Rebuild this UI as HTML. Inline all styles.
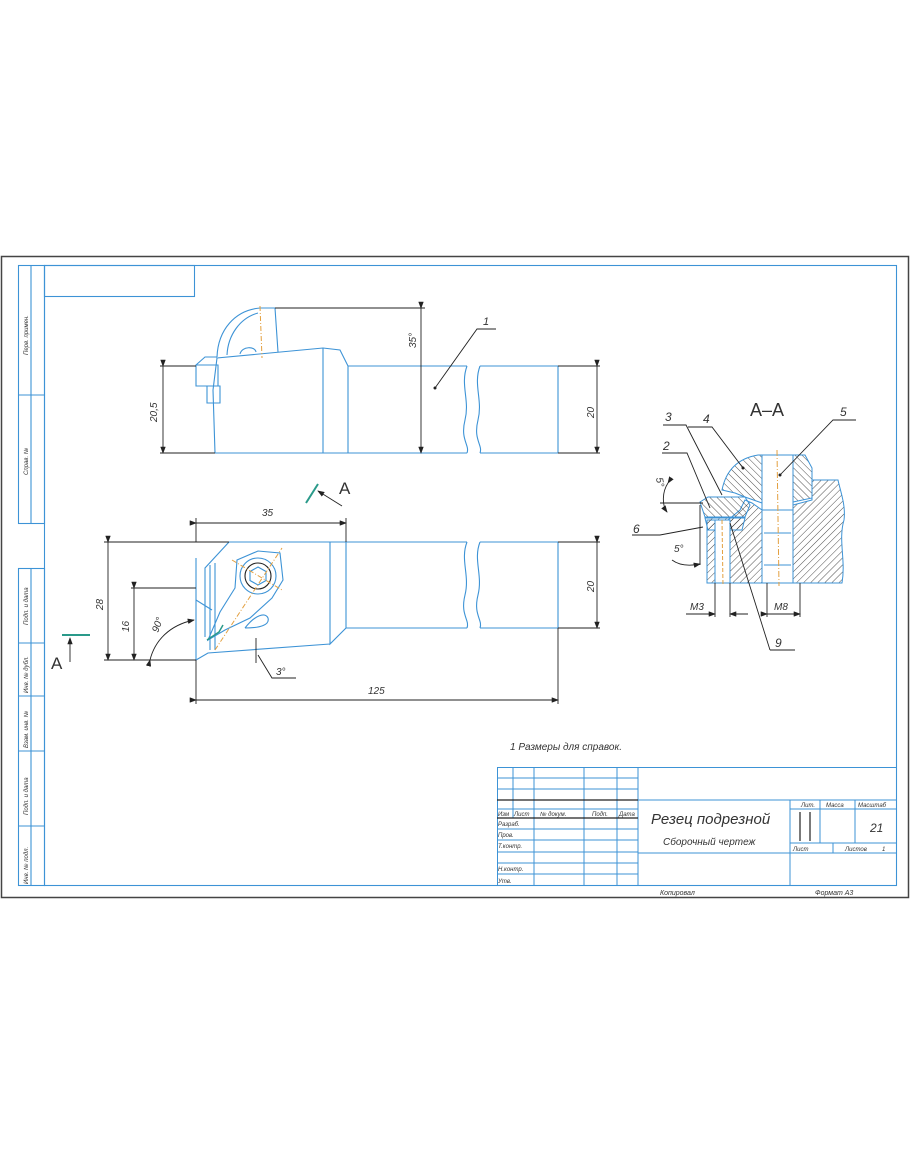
<!DOCTYPE html>
<html><head><meta charset="utf-8"><style>
html,body{margin:0;padding:0;background:#fff;}
svg{display:block;}
text{font-family:"Liberation Sans",sans-serif;font-style:italic;fill:#333;}
</style></head><body>
<svg width="910" height="1155" viewBox="0 0 910 1155" xmlns="http://www.w3.org/2000/svg">
<defs>
<pattern id="h" width="5" height="5" patternUnits="userSpaceOnUse" patternTransform="rotate(45)">
<line x1="0" y1="0" x2="0" y2="5" stroke="#222" stroke-width="0.8"/></pattern>
<pattern id="h2" width="5" height="5" patternUnits="userSpaceOnUse" patternTransform="rotate(-45)">
<line x1="0" y1="0" x2="0" y2="5" stroke="#222" stroke-width="0.8"/></pattern>
<marker id="a" markerWidth="8" markerHeight="6" refX="7" refY="3" orient="auto"><path d="M0,0 L8,3 L0,6z" fill="#222"/></marker>
</defs>
<rect x="1.5" y="256.5" width="907" height="641" fill="none" stroke="#444" stroke-width="1.5"/>
<g fill="none" stroke="#3d93d6" stroke-width="1.1">
<rect x="44.5" y="265.5" width="852" height="620"/>
<rect x="44.5" y="265.5" width="150" height="31"/>
<rect x="18.5" y="265.5" width="26" height="258"/>
<line x1="31" y1="265" x2="31" y2="523"/><line x1="18" y1="395" x2="44" y2="395"/>
<rect x="18.5" y="568.5" width="26" height="317"/>
<line x1="31" y1="568" x2="31" y2="886"/>
<line x1="18" y1="643" x2="44" y2="643"/><line x1="18" y1="696" x2="44" y2="696"/>
<line x1="18" y1="751" x2="44" y2="751"/><line x1="18" y1="826" x2="44" y2="826"/>
</g>
<g font-size="6">
<text transform="translate(28,355) rotate(-90)">Перв. примен.</text>
<text transform="translate(28,475) rotate(-90)">Справ. №</text>
<text transform="translate(28,625) rotate(-90)">Подп. и дата</text>
<text transform="translate(28,693) rotate(-90)">Инв. № дубл.</text>
<text transform="translate(28,748) rotate(-90)">Взам. инв. №</text>
<text transform="translate(28,815) rotate(-90)">Подп. и дата</text>
<text transform="translate(28,884) rotate(-90)">Инв. № подл.</text>
</g>

<!-- TOP VIEW -->
<g fill="none" stroke="#3d93d6" stroke-width="1.1">
<path d="M348,366 H467 M480,366 H558 V453 H480 M467,453 H348"/>
<path d="M467,366 C460,385 470,400 465,420 C460,440 470,445 467,453"/>
<path d="M480,366 C473,385 483,400 478,420 C473,440 483,445 480,453"/>
<path d="M215,453 L213,390 L217,358 L323,348 L340,350 L348,366 V453 M323,348 V453 M215,453 H348"/>
<path d="M196,365 H218 V386 H196Z M207,386 H220 V403 H207Z M196,365 L205,357 L217,357"/>
<path d="M217,357 C218,330 235,310 260,308 H275 L278,352"/>
<path d="M227,355 C228,335 240,318 258,313"/>
<path d="M240,354 C242,346 255,346 256,352"/>
</g>
<line x1="260" y1="306" x2="262" y2="358" stroke="#e3a040" stroke-dasharray="5,2,1,2"/>
<g stroke="#222" stroke-width="0.9" fill="none">
<line x1="160" y1="366" x2="196" y2="366"/><line x1="160" y1="453" x2="215" y2="453"/>
<line x1="163" y1="366" x2="163" y2="453" marker-start="url(#a)" marker-end="url(#a)"/>
<line x1="275" y1="308" x2="425" y2="308"/>
<line x1="421" y1="308" x2="421" y2="453" marker-start="url(#a)" marker-end="url(#a)"/>
<line x1="558" y1="366" x2="600" y2="366"/><line x1="558" y1="453" x2="600" y2="453"/>
<line x1="597" y1="366" x2="597" y2="453" marker-start="url(#a)" marker-end="url(#a)"/>
<path d="M435,388 L477,329 H496"/>
</g>
<circle cx="435" cy="388" r="1.5" fill="#222"/>
<text x="483" y="325" font-size="11">1</text>
<text transform="translate(157,422) rotate(-90)" font-size="10">20,5</text>
<text transform="translate(416,348) rotate(-90)" font-size="10">35°</text>
<text transform="translate(594,418) rotate(-90)" font-size="10">20</text>

<!-- PLAN VIEW -->
<g fill="none" stroke="#3d93d6" stroke-width="1.1">
<path d="M346,542 H467 M480,542 H558 V628 H480 M467,628 H346"/>
<path d="M467,542 C460,560 470,575 465,595 C460,615 470,620 467,628"/>
<path d="M480,542 C473,560 483,575 478,595 C473,615 483,620 480,628"/>
<path d="M229,542 H346 V628 L330,644 V542 M330,644 L208,653 L196,660 V558"/>
<path d="M229,542 L205,568 V637 M210,565 V650 M215,563 V650 M196,600 L212,610"/>
<path d="M208,640 L220,612 L235,588 L237,560 L258,551 L280,553 L283,580 L272,598 L250,618 L225,630 Z"/>
<circle cx="258" cy="576" r="18"/><circle cx="258" cy="576" r="13" stroke="#222"/>
<path d="M258,567 L266,571.5 V580.5 L258,585 L250,580.5 V571.5Z"/>
<path d="M245,628 C255,615 265,612 268,618 C270,625 260,628 245,628"/>
</g>
<path d="M207,640 L219,632 L223,625" stroke="#2a9a8a" stroke-width="1.5" fill="none"/>
<line x1="215" y1="650" x2="282" y2="548" stroke="#e3a040" stroke-dasharray="5,2,1,2"/>
<line x1="232" y1="560" x2="282" y2="590" stroke="#e3a040" stroke-dasharray="5,2,1,2"/>
<g stroke="#222" stroke-width="0.9" fill="none">
<line x1="196" y1="518" x2="196" y2="542"/><line x1="346" y1="518" x2="346" y2="542"/>
<line x1="196" y1="523" x2="346" y2="523" marker-start="url(#a)" marker-end="url(#a)"/>
<line x1="196" y1="660" x2="196" y2="704"/><line x1="558" y1="628" x2="558" y2="704"/>
<line x1="196" y1="700" x2="558" y2="700" marker-start="url(#a)" marker-end="url(#a)"/>
<line x1="558" y1="542" x2="600" y2="542"/><line x1="558" y1="628" x2="600" y2="628"/>
<line x1="597" y1="542" x2="597" y2="628" marker-start="url(#a)" marker-end="url(#a)"/>
<line x1="104" y1="542" x2="229" y2="542"/><line x1="104" y1="660" x2="196" y2="660"/>
<line x1="108" y1="542" x2="108" y2="660" marker-start="url(#a)" marker-end="url(#a)"/>
<line x1="131" y1="588" x2="196" y2="588"/>
<line x1="134" y1="588" x2="134" y2="660" marker-start="url(#a)" marker-end="url(#a)"/>
<path d="M150,660 C155,640 170,625 194,620" marker-start="url(#a)" marker-end="url(#a)"/>
<line x1="256" y1="638" x2="256" y2="663"/>
<path d="M258,655 L272,678 H296"/>
<line x1="342" y1="506" x2="318" y2="491" marker-end="url(#a)"/>
<line x1="70" y1="662" x2="70" y2="638" marker-end="url(#a)"/>
</g>
<line x1="306" y1="503" x2="318" y2="484" stroke="#2a9a8a" stroke-width="2"/>
<line x1="62" y1="635" x2="90" y2="635" stroke="#2a9a8a" stroke-width="2"/>
<text x="339" y="494" font-size="17" style="font-style:normal" fill="#444">A</text>
<text x="51" y="669" font-size="17" style="font-style:normal" fill="#444">A</text>
<text x="262" y="516" font-size="10">35</text>
<text x="368" y="694" font-size="10">125</text>
<text x="276" y="675" font-size="10">3°</text>
<text transform="translate(103,610) rotate(-90)" font-size="10">28</text>
<text transform="translate(129,632) rotate(-90)" font-size="10">16</text>
<text transform="translate(158,633) rotate(-70)" font-size="10">90°</text>
<text transform="translate(594,592) rotate(-90)" font-size="10">20</text>

<!-- SECTION A-A -->
<text x="750" y="416" font-size="18" style="font-style:normal" fill="#444">A–A</text>
<g stroke="#3d93d6" stroke-width="1">
<path d="M707,583 H762 V510 L752,503 L745,500 L740,510 L728,520 H707Z" fill="url(#h)"/>
<path d="M793,583 H842 C846,560 838,540 844,520 C846,505 840,490 838,480 H812 V500 L793,505Z" fill="url(#h)"/>
<path d="M722,490 Q728,460 758,455 H762 V503 L745,497 L735,493Z" fill="url(#h2)"/>
<path d="M793,455 H805 L812,468 V498 L793,502Z" fill="url(#h2)"/>
<path d="M700,502 L708,497 H745 L750,505 L745,517 H705Z" fill="url(#h2)"/>
<path d="M705,518 H745 L742,530 H708Z" fill="url(#h)"/>
<path d="M762,455 H793 V583 H762Z M762,510 H793 M764,533 H791 M764,565 H791" fill="#fff"/>
<path d="M715,520 H730 V583 H715Z" fill="#fff"/>
</g>
<line x1="777" y1="450" x2="779" y2="586" stroke="#e3a040" stroke-dasharray="6,2,1,2"/>
<line x1="722" y1="520" x2="723" y2="586" stroke="#e3a040" stroke-dasharray="4,2"/>
<g stroke="#222" stroke-width="0.9" fill="none">
<path d="M663,425 H686 L722,495"/>
<path d="M688,427 H712 L743,468"/>
<path d="M662,453 H687 L710,508"/>
<path d="M856,420 H833 L780,475"/>
<path d="M632,535 H660 L703,527"/>
<path d="M770,650 H795 M770,650 L730,523"/>
<line x1="660" y1="503" x2="703" y2="503"/>
<line x1="700" y1="505" x2="700" y2="565"/>
<path d="M668,483 C662,492 662,505 667,512" marker-start="url(#a)" marker-end="url(#a)"/>
<path d="M672,560 C680,566 690,566 700,564" marker-end="url(#a)"/>
<line x1="715" y1="583" x2="715" y2="617"/><line x1="730" y1="583" x2="730" y2="617"/>
<line x1="686" y1="614" x2="715" y2="614" marker-end="url(#a)"/>
<line x1="748" y1="614" x2="730" y2="614" marker-end="url(#a)"/>
<line x1="767" y1="583" x2="767" y2="617"/><line x1="800" y1="583" x2="800" y2="617"/>
<line x1="767" y1="614" x2="800" y2="614" marker-start="url(#a)" marker-end="url(#a)"/>
</g>
<circle cx="743" cy="468" r="1.5" fill="#222"/><circle cx="780" cy="475" r="1.5" fill="#222"/>
<text x="665" y="421" font-size="12">3</text>
<text x="703" y="423" font-size="12">4</text>
<text x="663" y="450" font-size="12">2</text>
<text x="840" y="416" font-size="12">5</text>
<text x="633" y="533" font-size="12">6</text>
<text x="775" y="647" font-size="12">9</text>
<text transform="translate(656,478) rotate(80)" font-size="10">5°</text>
<text x="674" y="552" font-size="10">5°</text>
<text x="690" y="610" font-size="10">M3</text>
<text x="774" y="610" font-size="10">M8</text>

<text x="510" y="750" font-size="10">1 Размеры для справок.</text>

<!-- TITLE BLOCK -->
<g fill="none" stroke="#3d93d6" stroke-width="1">
<rect x="497.5" y="767.5" width="399" height="118"/>
<line x1="497" y1="778" x2="638" y2="778"/><line x1="497" y1="789" x2="638" y2="789"/>
<line x1="497" y1="800" x2="897" y2="800"/><line x1="497" y1="809" x2="638" y2="809"/>
<line x1="497" y1="818" x2="638" y2="818"/><line x1="497" y1="829" x2="638" y2="829"/>
<line x1="497" y1="840" x2="638" y2="840"/><line x1="497" y1="852" x2="638" y2="852"/>
<line x1="497" y1="863" x2="638" y2="863"/><line x1="497" y1="874" x2="638" y2="874"/>
<line x1="513" y1="767" x2="513" y2="818"/><line x1="534" y1="767" x2="534" y2="886"/>
<line x1="584" y1="767" x2="584" y2="886"/><line x1="617" y1="767" x2="617" y2="886"/>
<line x1="638" y1="767" x2="638" y2="886"/>
<line x1="638" y1="853" x2="897" y2="853"/>
<line x1="790" y1="800" x2="790" y2="886"/>
<line x1="790" y1="809" x2="897" y2="809"/>
<line x1="790" y1="843" x2="897" y2="843"/>
<line x1="820" y1="800" x2="820" y2="843"/><line x1="855" y1="800" x2="855" y2="843"/>
<line x1="833" y1="843" x2="833" y2="853"/>
</g>
<g stroke="#222" stroke-width="1.2">
<line x1="497" y1="800" x2="638" y2="800"/><line x1="497" y1="818" x2="638" y2="818"/>
<line x1="800" y1="812" x2="800" y2="841"/><line x1="810" y1="812" x2="810" y2="841"/>
</g>
<g font-size="6">
<text x="498" y="816">Изм</text><text x="514" y="816">Лист</text><text x="540" y="816">№ докум.</text>
<text x="592" y="816">Подп.</text><text x="619" y="816">Дата</text>
<text x="498" y="826">Разраб.</text><text x="498" y="837">Пров.</text><text x="498" y="848">Т.контр.</text>
<text x="498" y="871">Н.контр.</text><text x="498" y="883">Утв.</text>
<text x="801" y="807">Лит.</text><text x="826" y="807">Масса</text><text x="858" y="807">Масштаб</text>
<text x="793" y="851">Лист</text><text x="845" y="851">Листов</text><text x="882" y="851">1</text>
</g>
<text x="651" y="824" font-size="15" fill="#555">Резец подрезной</text>
<text x="663" y="845" font-size="10" fill="#555">Сборочный чертеж</text>
<text x="870" y="832" font-size="12" fill="#555">21</text>
<text x="660" y="895" font-size="7">Копировал</text>
<text x="815" y="895" font-size="7">Формат    А3</text>
</svg>
</body></html>
